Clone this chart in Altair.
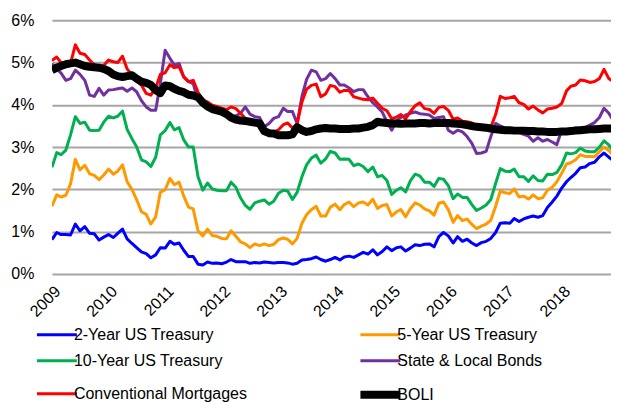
import altair as alt
import pandas as pd

# ---- data (monthly, Jan 2009 - Dec 2018), values in percent ----
months = pd.date_range("2009-01-01", periods=120, freq="MS").strftime("%Y-%m-%d").tolist()

series_names = ["2-Year US Treasury", "5-Year US Treasury", "10-Year US Treasury",
                "State & Local Bonds", "Conventional Mortgages", "BOLI"]
series_colors = ["#0000FF", "#FF9900", "#00B050", "#7030A0", "#FF0000", "#000000"]
series_widths = [3, 3, 3, 3, 3, 8]
y_ticks = [0, 1, 2, 3, 4, 5, 6]

treasury_2y = [
    0.81, 0.98, 0.93, 0.93, 0.92, 1.18, 1.02, 1.12, 0.96, 0.95, 0.80, 0.87,
    0.93, 0.86, 0.96, 1.06, 0.83, 0.72, 0.62, 0.52, 0.48, 0.38, 0.45, 0.62,
    0.61, 0.77, 0.70, 0.73, 0.56, 0.41, 0.41, 0.23, 0.21, 0.28, 0.25, 0.26,
    0.24, 0.28, 0.34, 0.29, 0.29, 0.29, 0.25, 0.27, 0.26, 0.28, 0.27, 0.26,
    0.27, 0.27, 0.26, 0.23, 0.25, 0.33, 0.34, 0.36, 0.40, 0.34, 0.30, 0.34,
    0.39, 0.33, 0.40, 0.42, 0.39, 0.45, 0.51, 0.47, 0.57, 0.45, 0.53, 0.64,
    0.55, 0.62, 0.64, 0.54, 0.61, 0.69, 0.67, 0.70, 0.71, 0.64, 0.88, 0.98,
    0.90, 0.73, 0.88, 0.77, 0.82, 0.73, 0.67, 0.74, 0.77, 0.84, 0.98, 1.20,
    1.21, 1.20, 1.31, 1.24, 1.30, 1.34, 1.37, 1.34, 1.38, 1.57, 1.70, 1.84,
    2.03, 2.18, 2.28, 2.38, 2.51, 2.53, 2.61, 2.64, 2.77, 2.86, 2.76, 2.68,
]
treasury_5y = [
    1.60, 1.87, 1.82, 1.86, 2.13, 2.71, 2.46, 2.57, 2.37, 2.33, 2.23, 2.34,
    2.48, 2.36, 2.43, 2.58, 2.18, 2.00, 1.76, 1.47, 1.41, 1.18, 1.35, 1.93,
    1.99, 2.26, 2.11, 2.17, 1.84, 1.58, 1.54, 1.02, 0.90, 1.06, 0.91, 0.89,
    0.84, 0.83, 1.02, 0.89, 0.76, 0.71, 0.62, 0.71, 0.67, 0.71, 0.67, 0.70,
    0.81, 0.85, 0.82, 0.71, 0.84, 1.20, 1.40, 1.52, 1.60, 1.37, 1.37, 1.58,
    1.65, 1.52, 1.64, 1.70, 1.59, 1.68, 1.70, 1.63, 1.77, 1.55, 1.62, 1.64,
    1.37, 1.47, 1.52, 1.35, 1.54, 1.68, 1.63, 1.54, 1.49, 1.39, 1.67, 1.70,
    1.52, 1.22, 1.38, 1.26, 1.30, 1.17, 1.07, 1.13, 1.18, 1.27, 1.60, 1.96,
    1.92, 1.90, 2.01, 1.82, 1.84, 1.77, 1.87, 1.78, 1.80, 1.98, 2.05, 2.18,
    2.38, 2.60, 2.63, 2.70, 2.82, 2.78, 2.78, 2.77, 2.89, 3.00, 2.92, 2.80,
]
treasury_10y = [
    2.52, 2.87, 2.82, 2.93, 3.29, 3.72, 3.56, 3.59, 3.40, 3.39, 3.40, 3.59,
    3.73, 3.69, 3.73, 3.85, 3.42, 3.20, 3.01, 2.70, 2.65, 2.54, 2.76, 3.29,
    3.39, 3.58, 3.41, 3.46, 3.17, 3.00, 3.00, 2.30, 1.98, 2.15, 2.01, 1.98,
    1.97, 1.97, 2.17, 2.05, 1.80, 1.62, 1.53, 1.68, 1.72, 1.75, 1.65, 1.72,
    1.91, 1.98, 1.96, 1.76, 1.93, 2.30, 2.58, 2.74, 2.81, 2.62, 2.72, 2.90,
    2.86, 2.71, 2.72, 2.71, 2.56, 2.60, 2.54, 2.42, 2.53, 2.30, 2.33, 2.21,
    1.88, 1.98, 2.04, 1.94, 2.20, 2.36, 2.32, 2.17, 2.17, 2.07, 2.26, 2.24,
    2.09, 1.78, 1.89, 1.81, 1.81, 1.64, 1.50, 1.56, 1.63, 1.76, 2.14, 2.49,
    2.43, 2.42, 2.48, 2.30, 2.30, 2.19, 2.32, 2.21, 2.20, 2.36, 2.35, 2.40,
    2.58, 2.86, 2.84, 2.87, 2.98, 2.91, 2.89, 2.89, 3.00, 3.15, 3.05, 2.90,
]
state_local = [
    4.97, 4.85, 4.75, 4.58, 4.62, 4.82, 4.72, 4.58, 4.23, 4.20, 4.39, 4.23,
    4.35, 4.36, 4.38, 4.40, 4.32, 4.40, 4.31, 4.10, 3.95, 3.87, 3.87, 4.50,
    5.29, 5.10, 4.94, 4.98, 4.66, 4.55, 4.50, 4.10, 4.06, 4.02, 3.95, 3.90,
    3.85, 3.75, 3.70, 3.74, 3.80, 3.95, 3.78, 3.72, 3.70, 3.48, 3.56, 3.68,
    3.72, 3.92, 3.84, 3.84, 3.56, 4.20, 4.60, 4.82, 4.78, 4.58, 4.62, 4.74,
    4.62, 4.47, 4.47, 4.40, 4.31, 4.36, 4.36, 4.19, 4.05, 3.95, 3.83, 3.60,
    3.40, 3.62, 3.70, 3.76, 3.80, 3.83, 3.79, 3.78, 3.76, 3.68, 3.70, 3.72,
    3.40, 3.33, 3.40, 3.36, 3.25, 3.09, 2.85, 2.86, 2.90, 3.25, 3.56, 3.50,
    3.45, 3.42, 3.40, 3.35, 3.30, 3.26, 3.14, 3.22, 3.14, 3.18, 3.12, 3.06,
    3.40, 3.38, 3.42, 3.46, 3.44, 3.46, 3.52, 3.58, 3.70, 3.92, 3.80, 3.62,
]
mortgages = [
    5.05, 5.13, 5.00, 4.95, 4.98, 5.42, 5.22, 5.19, 5.06, 4.95, 4.88, 4.93,
    5.06, 5.02, 5.00, 5.15, 4.85, 4.70, 4.56, 4.47, 4.27, 4.23, 4.40, 4.72,
    4.76, 4.95, 4.88, 4.90, 4.66, 4.55, 4.58, 4.30, 4.11, 4.07, 3.99, 3.96,
    3.92, 3.89, 3.95, 3.91, 3.80, 3.68, 3.55, 3.60, 3.50, 3.38, 3.35, 3.35,
    3.41, 3.53, 3.57, 3.45, 3.54, 4.07, 4.37, 4.46, 4.49, 4.19, 4.26, 4.46,
    4.43, 4.30, 4.34, 4.34, 4.19, 4.16, 4.13, 4.12, 4.16, 4.04, 3.92, 3.86,
    3.67, 3.71, 3.77, 3.67, 3.84, 3.98, 4.05, 3.91, 3.89, 3.80, 3.94, 3.96,
    3.87, 3.66, 3.69, 3.61, 3.60, 3.57, 3.44, 3.44, 3.46, 3.47, 3.77, 4.20,
    4.15, 4.17, 4.20, 4.05, 4.01, 3.90, 3.97, 3.88, 3.81, 3.90, 3.92, 3.95,
    4.03, 4.33, 4.44, 4.47, 4.59, 4.57, 4.53, 4.55, 4.62, 4.84, 4.62, 4.55,
]
boli = [
    4.82, 4.88, 4.92, 4.96, 4.98, 5.00, 4.96, 4.92, 4.90, 4.89, 4.88, 4.85,
    4.80, 4.72, 4.68, 4.66, 4.68, 4.70, 4.62, 4.55, 4.52, 4.47, 4.35, 4.28,
    4.46, 4.44, 4.38, 4.33, 4.30, 4.24, 4.22, 4.18, 4.05, 3.96, 3.90, 3.87,
    3.84, 3.78, 3.70, 3.65, 3.63, 3.62, 3.60, 3.58, 3.56, 3.38, 3.33, 3.32,
    3.28, 3.28, 3.28, 3.30, 3.47, 3.40, 3.36, 3.38, 3.42, 3.44, 3.45, 3.44,
    3.44, 3.43, 3.43, 3.43, 3.44, 3.44, 3.46, 3.48, 3.52, 3.60, 3.58, 3.57,
    3.56, 3.56, 3.55, 3.56, 3.56, 3.56, 3.57, 3.57, 3.56, 3.57, 3.57, 3.57,
    3.57, 3.56, 3.55, 3.54, 3.52, 3.50, 3.48, 3.47, 3.46, 3.44, 3.42, 3.41,
    3.40, 3.40, 3.39, 3.39, 3.39, 3.38, 3.38, 3.37, 3.37, 3.36, 3.36, 3.36,
    3.37, 3.37, 3.38, 3.39, 3.40, 3.41, 3.42, 3.42, 3.43, 3.44, 3.44, 3.44,
]

all_values = [treasury_2y, treasury_5y, treasury_10y, state_local, mortgages, boli]
rows = []
for k, (name, vals) in enumerate(zip(series_names, all_values)):
    for m, v in zip(months, vals):
        rows.append({"month": m, "series": name, "value": v, "k": k})
df = pd.DataFrame(rows)

# the legend fills column by column: reorder so it reads row by row (2 columns)
leg_idx = [0, 2, 4, 1, 3, 5]
legend_domain = [series_names[i] for i in leg_idx]
legend_colors = [series_colors[i] for i in leg_idx]
legend_widths = [series_widths[i] for i in leg_idx]

FONT = "Liberation Sans"
FS = 16

legend_opts = dict(orient="none", legendX=-19, legendY=307, columns=2, title=None,
                   symbolType="M-4,0H4", symbolSize=100, symbolOffset=15,
                   labelOffset=8, labelFont=FONT, labelFontSize=FS,
                   labelColor="#000000", labelLimit=400, rowPadding=10,
                   columnPadding=97, padding=0)

chart = alt.Chart(df).mark_line(clip=True, strokeJoin="round", strokeCap="butt").encode(
    x=alt.X(
        "month:T",
        scale=alt.Scale(type="utc",
                        domain=[alt.DateTime(year=2009, month=1, date=1, utc=True),
                                alt.DateTime(year=2018, month=11, date=15, utc=True)]),
        axis=alt.Axis(format="%Y", tickCount={"interval": "year", "step": 1},
                      labelAngle=-45, grid=False, ticks=False, domain=False, title=None,
                      labelPadding=9, labelFont=FONT, labelFontSize=FS, labelColor="#000000"),
    ),
    y=alt.Y(
        "value:Q",
        scale=alt.Scale(domain=[0, 6], nice=False),
        axis=alt.Axis(values=y_ticks, labelExpr="datum.value + '%'", grid=True,
                      gridColor="#A6A6A6", gridWidth=2, ticks=False, domain=False,
                      title=None, labelPadding=18, labelFont=FONT, labelFontSize=FS,
                      labelColor="#000000"),
    ),
    color=alt.Color(
        "series:N",
        scale=alt.Scale(domain=legend_domain, range=legend_colors),
        legend=alt.Legend(**legend_opts),
    ),
    strokeWidth=alt.StrokeWidth(
        "series:N",
        scale=alt.Scale(type="ordinal", domain=legend_domain, range=legend_widths),
        legend=alt.Legend(**legend_opts),
    ),
    order=alt.Order("k:Q"),
).properties(
    width=560, height=254,
    padding={"left": 2, "top": 4, "right": 0, "bottom": 0},
).configure_view(stroke=None)

chart.save("out.html", embed_options={"renderer": "svg", "actions": False})
